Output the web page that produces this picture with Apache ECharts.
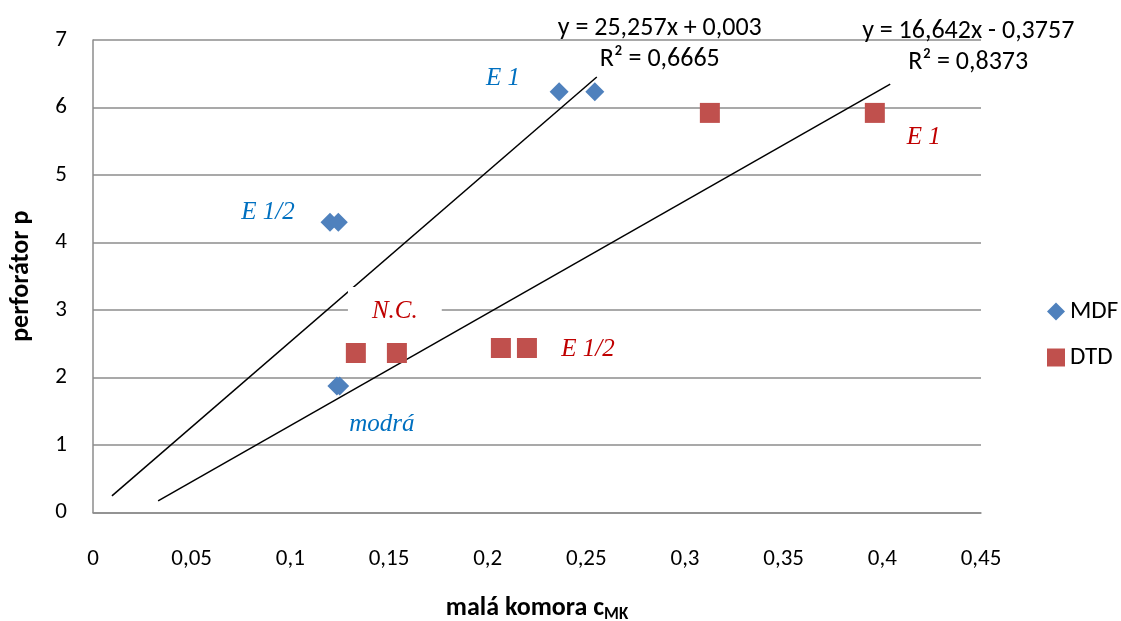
<!DOCTYPE html>
<html>
<head>
<meta charset="utf-8">
<script src="https://cdn.jsdelivr.net/npm/echarts@6/dist/echarts.min.js"></script>
<style>
  html, body { margin: 0; padding: 0; background: #fff; }
  #chart { width: 1121px; height: 621px; }
</style>
</head>
<body>
<div id="chart"></div>
<script>
// Measured points: MDF boards (blue diamonds) and DTD boards (red squares)
const mdfX = [0.2362, 0.2543, 0.1201, 0.1243, 0.1236, 0.1250];
const mdfY = [6.234, 6.234, 4.30, 4.30, 1.874, 1.874];
const mdfPointLabels = ['E 1', '', 'E 1/2', '', 'modrá', ''];

const dtdX = [0.3126, 0.3962, 0.1332, 0.1540, 0.2067, 0.2199];
const dtdY = [5.92, 5.92, 2.363, 2.363, 2.437, 2.437];
const dtdPointLabels = ['', 'E 1', 'N.C.', '', '', 'E 1/2'];

// Linear trendlines (slope, intercept, R²) and the x span they are drawn over
const trendSlopes = [25.257, 16.642];
const trendIntercepts = [0.003, -0.3757];
const trendR2 = [0.6665, 0.8373];
const trendFrom = [0.0096, 0.033];
const trendTo = [0.2553, 0.404];

const seriesNames = ['MDF', 'DTD'];
const xTicks = { min: 0, max: 0.45, interval: 0.05 };
const yTicks = { min: 0, max: 7, interval: 1 };

const SANS = 'Carlito, Lato, sans-serif';
const SERIF = '"Liberation Serif", "DejaVu Serif", serif';
const BLUE = '#0070C0';
const RED = '#C00000';
const GRID_GRAY = '#8c8c8c';

const comma = v => String(+v.toFixed(4)).replace('.', ',');

// Per-label placement of the italic annotations (offset from the point, box padding)
const annoStyle = {
  'E 1|MDF':   { offset: [-56, -13], padding: [2, 4, 2, 4] },
  'E 1/2|MDF': { offset: [-62, -10], padding: [2, 4, 2, 4] },
  'modrá|MDF': { offset: [45, 38],   padding: [7, 18, 7, 18], bg: '#fff' },
  'E 1|DTD':   { offset: [49, 25],   padding: [2, 4, 2, 4] },
  'N.C.|DTD':  { offset: [39, -42],  padding: [11, 24, 11, 24], bg: '#fff' },
  'E 1/2|DTD': { offset: [61, 1],    padding: [2, 4, 2, 4] }
};

function pointData(xs, ys, labels, name, color) {
  return xs.map((x, i) => {
    const item = { value: [x, ys[i]] };
    const text = labels[i];
    if (text) {
      const s = annoStyle[text + '|' + name];
      item.label = {
        show: true,
        position: 'inside',
        formatter: text,
        offset: s.offset,
        color: color,
        fontFamily: SERIF,
        fontStyle: 'italic',
        fontSize: 25,
        lineHeight: 26,
        padding: s.padding,
        backgroundColor: s.bg || 'transparent'
      };
    }
    return item;
  });
}

function trendData(k, eqOffset) {
  const a = trendSlopes[k], b = trendIntercepts[k];
  const x0 = trendFrom[k], x1 = trendTo[k];
  const eq = 'y = ' + comma(a) + 'x ' + (b < 0 ? '-' : '+') + ' ' + comma(Math.abs(b));
  const r2 = 'R² = ' + comma(trendR2[k]);
  return [
    { value: [x0, a * x0 + b] },
    {
      value: [x1, a * x1 + b],
      label: {
        show: true,
        position: 'inside',
        offset: eqOffset,
        formatter: '{t|' + eq + '}\n{t|' + r2 + '}',
        align: 'center',
        rich: { t: { fontFamily: SANS, fontSize: 26, color: '#000', lineHeight: 31, align: 'center' } }
      }
    }
  ];
}

const chart = echarts.init(document.getElementById('chart'), null, { renderer: 'canvas' });

const trendSeries = (k, eqOffset) => ({
  type: 'line',
  name: 'trend' + k,
  data: trendData(k, eqOffset),
  symbol: 'circle',
  symbolSize: 1,
  showSymbol: true,
  itemStyle: { color: 'rgba(0,0,0,0)' },
  lineStyle: { color: '#000', width: 1.5 },
  z: 3,
  silent: true
});

chart.setOption({
  animation: false,
  backgroundColor: '#fff',
  grid: { left: 93, top: 40, width: 888, height: 472.5, containLabel: false, outerBoundsMode: 'none' },
  xAxis: {
    type: 'value',
    min: xTicks.min, max: xTicks.max, interval: xTicks.interval,
    name: '{b|malá komora c}{s|MK}',
    nameLocation: 'middle',
    nameGap: 80,
    nameTextStyle: {
      rich: {
        b: { fontFamily: SANS, fontWeight: 'bold', fontSize: 26, color: '#000' },
        s: { fontFamily: SANS, fontWeight: 'bold', fontSize: 17, color: '#000', padding: [14, 0, 0, 0] }
      }
    },
    axisLine: { show: true, lineStyle: { color: GRID_GRAY, width: 1.5 } },
    axisTick: { show: false },
    splitLine: { show: false },
    axisLabel: {
      margin: 35,
      fontFamily: SANS, fontSize: 23, color: '#000',
      formatter: v => comma(v)
    }
  },
  yAxis: {
    type: 'value',
    min: yTicks.min, max: yTicks.max, interval: yTicks.interval,
    name: 'perforátor p',
    nameLocation: 'middle',
    nameRotate: 90,
    nameGap: 59,
    nameTextStyle: { fontFamily: SANS, fontWeight: 'bold', fontSize: 26, color: '#000' },
    axisLine: { show: true, lineStyle: { color: GRID_GRAY, width: 1.5 } },
    axisTick: { show: false },
    splitLine: { show: true, lineStyle: { color: GRID_GRAY, width: 1.5 } },
    axisLabel: {
      margin: 26,
      fontFamily: SANS, fontSize: 23, color: '#000',
      formatter: v => comma(v)
    }
  },
  legend: {
    data: seriesNames,
    orient: 'vertical',
    left: 1042,
    top: 294,
    itemWidth: 18,
    itemHeight: 18,
    itemGap: 21,
    textStyle: { fontFamily: SANS, fontSize: 25, color: '#000' }
  },
  series: [
    trendSeries(0, [63, -33]),
    trendSeries(1, [78, -37]),
    {
      type: 'scatter',
      name: seriesNames[0],
      symbol: 'diamond',
      symbolSize: [19, 19],
      itemStyle: { color: '#4F81BD', opacity: 1 },
      data: pointData(mdfX, mdfY, mdfPointLabels, 'MDF', BLUE),
      z: 5
    },
    {
      type: 'scatter',
      name: seriesNames[1],
      symbol: 'rect',
      symbolSize: 20,
      itemStyle: { color: '#C0504D', opacity: 1 },
      data: pointData(dtdX, dtdY, dtdPointLabels, 'DTD', RED),
      z: 5
    }
  ]
});
</script>
</body>
</html>
